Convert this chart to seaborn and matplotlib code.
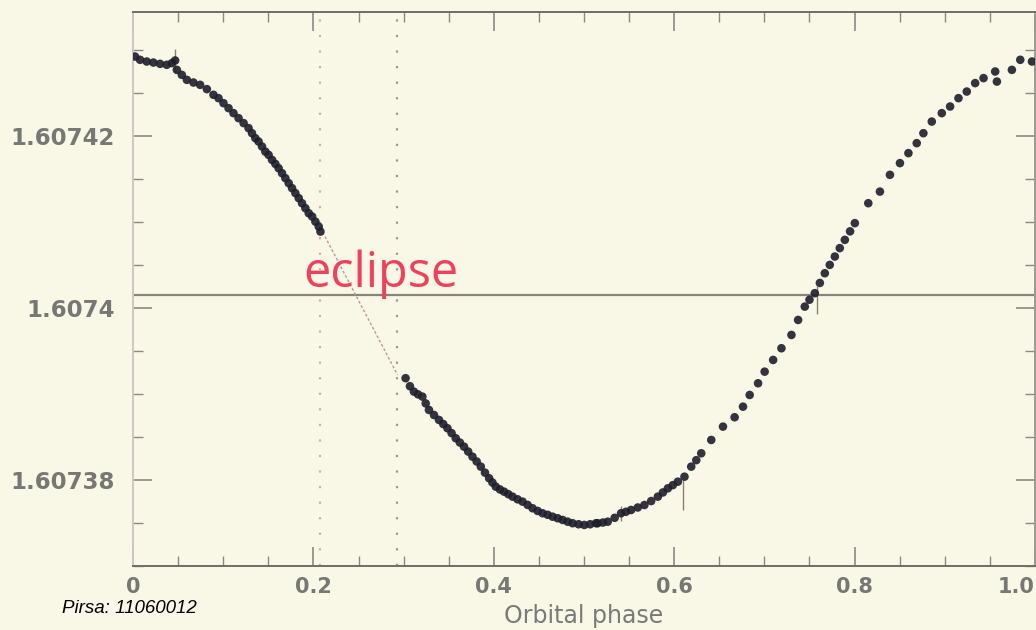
import numpy as np
import pandas as pd
import matplotlib
matplotlib.use("Agg")
import matplotlib.pyplot as plt
from matplotlib.ticker import MultipleLocator
import seaborn as sns

# Pulse period versus orbital phase.
# Period is stored as an offset from 1.6074 s, in microseconds.
P0 = 1.6074

phase_a = [0.0022, 0.0078, 0.0152, 0.0226, 0.0300, 0.0374, 0.0430, 0.0467, 0.0486,
           0.0541, 0.0597, 0.0670, 0.0744, 0.0819, 0.0892, 0.0948, 0.1003, 0.1059,
           0.1114, 0.1170, 0.1226, 0.1281, 0.1319, 0.1356, 0.1392, 0.1430, 0.1467,
           0.1503, 0.1541, 0.1578, 0.1614, 0.1652, 0.1689, 0.1726, 0.1763, 0.1800,
           0.1837, 0.1874, 0.1911, 0.1948, 0.1986, 0.2022, 0.2059, 0.2078]
dp_a = [29.22, 28.84, 28.64, 28.52, 28.37, 28.26, 28.45, 28.76, 27.67,
        27.09, 26.51, 26.20, 25.93, 25.43, 24.77, 24.38, 23.80, 23.22,
        22.64, 22.06, 21.48, 20.90, 20.31, 19.73, 19.34, 18.76, 18.17,
        17.79, 17.21, 16.74, 16.24, 15.66, 15.08, 14.50, 13.92, 13.34,
        12.76, 12.17, 11.59, 11.01, 10.62, 10.03, 9.45, 8.87]

phase_b = [0.3022, 0.3070, 0.3114, 0.3160, 0.3208, 0.3245, 0.3281, 0.3337, 0.3392,
           0.3440, 0.3486, 0.3532, 0.3578, 0.3624, 0.3670, 0.3716, 0.3763, 0.3810,
           0.3856, 0.3902, 0.3948, 0.3985, 0.4022, 0.4068, 0.4114, 0.4161, 0.4208,
           0.4264, 0.4319, 0.4375, 0.4430, 0.4486, 0.4541, 0.4597, 0.4652, 0.4708,
           0.4763, 0.4819, 0.4874, 0.4940, 0.5003, 0.5068, 0.5133]
dp_b = [-8.17, -9.10, -9.73, -10.05, -10.31, -11.10, -11.86, -12.45, -13.02,
        -13.50, -13.99, -14.55, -15.15, -15.65, -16.13, -16.70, -17.29, -17.85,
        -18.45, -19.15, -19.80, -20.30, -20.78, -21.10, -21.36, -21.65, -21.94,
        -22.25, -22.52, -22.90, -23.29, -23.60, -23.87, -24.05, -24.27, -24.45,
        -24.65, -24.85, -25.03, -25.15, -25.23, -25.15, -25.03]

phase_c = [0.5152, 0.5210, 0.5263, 0.5340, 0.5411, 0.5465, 0.5522, 0.5596, 0.5670,
           0.5745, 0.5819, 0.5875, 0.5930, 0.5985, 0.6041, 0.6114, 0.6189, 0.6245,
           0.6300, 0.6411, 0.6541, 0.6670, 0.6763, 0.6837, 0.6930, 0.7003, 0.7097,
           0.7189, 0.7300, 0.7374]
dp_c = [-25.03, -24.95, -24.85, -24.40, -23.87, -23.70, -23.49, -23.20, -22.91,
        -22.45, -21.94, -21.45, -20.97, -20.60, -20.20, -19.62, -18.45, -17.70,
        -16.90, -15.35, -13.80, -12.71, -11.48, -10.12, -8.76, -7.41, -6.05,
        -4.69, -3.14, -1.40]

phase_d = [0.7448, 0.7500, 0.7559, 0.7615, 0.7670, 0.7725, 0.7781, 0.7836, 0.7892,
           0.7950, 0.8003, 0.8152, 0.8281, 0.8392, 0.8503, 0.8597, 0.8689, 0.8763,
           0.8856, 0.8967, 0.9059, 0.9152, 0.9244, 0.9337, 0.9430, 0.9559, 0.9578,
           0.9744, 0.9837, 0.9967]
dp_d = [0.15, 0.95, 1.71, 2.90, 4.03, 5.00, 5.97, 6.95, 7.91,
        8.90, 9.85, 12.17, 13.52, 15.47, 16.83, 17.99, 19.15, 20.31,
        21.66, 22.64, 23.41, 24.38, 25.15, 26.13, 26.71, 27.48, 26.31,
        27.67, 28.84, 28.64]

# Points shown with error bars
err_phase = [0.0467, 0.5411, 0.6100, 0.7578]
err_dp = [28.76, -23.87, -21.74, 0.93]
err_size = [1.3, 0.9, 1.7, 1.6]

# Eclipse window edges and the track across it
eclipse_phase = [0.2078, 0.2922]
bridge_phase = [0.2078, 0.2933]
bridge_dp = [9.30, -7.79]
mean_dp = 1.51

x_ticks = [0.0, 0.2, 0.4, 0.6, 0.8, 1.0]
x_tick_labels = ["0", "0.2", "0.4", "0.6", "0.8", "1.0"]
y_ticks = [1.60738, 1.6074, 1.60742]
y_tick_labels = ["1.60738", "1.6074", "1.60742"]

df = pd.DataFrame({
    "phase": phase_a + phase_b + phase_c + phase_d,
    "dp": dp_a + dp_b + dp_c + dp_d,
})
df["period"] = P0 + df["dp"] * 1e-6

bg = "#f9f8e6"
sns.set_theme(style="ticks")
plt.rcParams["font.family"] = ["DejaVu Sans"]

fig = plt.figure(figsize=(10.36, 6.30), dpi=100, facecolor=bg)
ax = fig.add_axes([0.1284, 0.1016, 0.8706, 0.8794])
ax.set_facecolor(bg)

ax.set_xlim(0, 1.0)
ax.set_ylim(P0 - 30.0e-6, P0 + 34.4e-6)

# mean period line
ax.axhline(P0 + mean_dp * 1e-6, color="#85857c", lw=1.6, zorder=1)

# eclipse boundaries
ax.axvline(eclipse_phase[0], color="#d9a8a8", lw=1.6, ls=(0, (1, 6)), zorder=1)
ax.axvline(eclipse_phase[1], color="#9a9890", lw=1.6, ls=(0, (1, 6)), zorder=1)
ax.plot(bridge_phase, [P0 + v * 1e-6 for v in bridge_dp], color="#b89a9a",
        lw=1.0, ls=(0, (2, 1.5)), zorder=1)

ax.errorbar(err_phase, [P0 + v * 1e-6 for v in err_dp],
            yerr=[v * 1e-6 for v in err_size], fmt="none",
            ecolor="#8a826a", elinewidth=1.0, zorder=2)

sns.scatterplot(data=df, x="phase", y="period", ax=ax, color="#1e1e2c",
                s=38, edgecolor="none", alpha=0.9, zorder=3, legend=False)

ax.set_xlabel("Orbital phase", color="#7a7a7a", fontsize=17, labelpad=5)
ax.set_ylabel("")

ax.set_xticks(x_ticks)
ax.set_xticklabels(x_tick_labels)
ax.xaxis.set_minor_locator(MultipleLocator(0.05))
ax.set_yticks(y_ticks)
ax.set_yticklabels(y_tick_labels)
ax.yaxis.set_minor_locator(MultipleLocator(5e-6))

ax.tick_params(axis="both", which="both", direction="in", top=True, right=True,
               colors="#8a8a84", labelcolor="#777774")
ax.tick_params(axis="both", which="major", length=14, width=1.2)
ax.tick_params(axis="x", which="major", labelsize=15, pad=8)
ax.tick_params(axis="y", which="major", labelsize=16.5, pad=13)
ax.tick_params(axis="both", which="minor", length=7, width=1.0)
for lab in ax.get_xticklabels() + ax.get_yticklabels():
    lab.set_fontweight("bold")
# keep the last phase label inside the figure
ax.get_xticklabels()[-1].set_horizontalalignment("right")

for side, col in (("left", "#d2c4c4"), ("bottom", "#6e6e68"),
                  ("top", "#6e6e68"), ("right", "#9a9a92")):
    ax.spines[side].set_color(col)
    ax.spines[side].set_linewidth(1.4)

fig.text(0.2925, 0.5444, "eclipse", color="#f0405c", fontsize=35,
         family="Open Sans", va="baseline", ha="left")
fig.text(0.0598, 0.0349, "Pirsa: 11060012", color="black", fontsize=13.5,
         family="Liberation Sans", style="italic", va="center", ha="left")

fig.savefig("out.png", dpi=100, facecolor=bg)
